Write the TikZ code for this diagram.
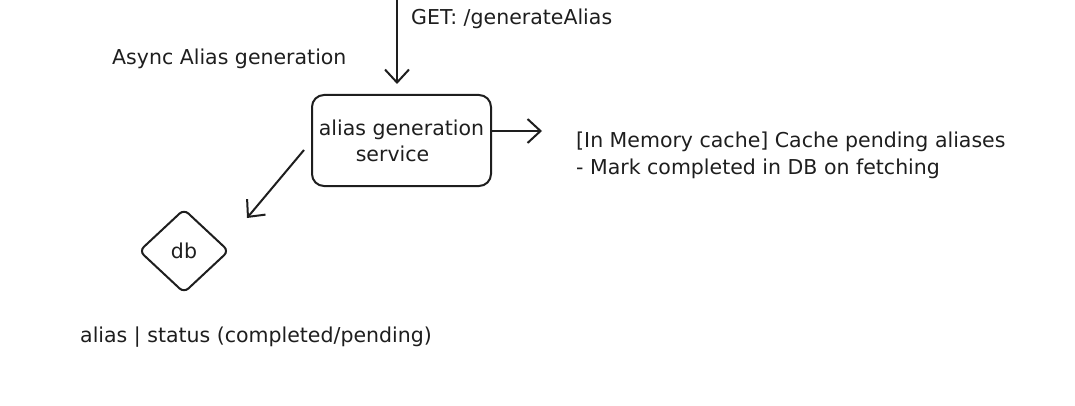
\documentclass[tikz,border=0pt]{standalone}
\usepackage{fontspec}
\setmainfont{DejaVu Sans}
\usetikzlibrary{arrows.meta,shapes.geometric}
\definecolor{ink}{HTML}{1E1E1E}
\tikzset{
  lbl/.style={text=ink, inner sep=0pt, font=\fontsize{20.5}{27}\selectfont},
  conn/.style={draw=ink, line width=2pt, -{Straight Barb[length=13pt,width=24pt,line width=2pt]}},
  svc/.style={draw=ink, line width=2pt, rounded corners=12pt, minimum width=179pt, minimum height=91pt, align=center, text=ink, inner sep=0pt, font=\fontsize{20.5}{27}\selectfont},
  dbshape/.style={draw=ink, line width=2pt, diamond, rounded corners=6pt, minimum width=90pt, minimum height=84pt, inner sep=0pt, text=ink, font=\fontsize{20.5}{22}\selectfont}
}
\begin{document}
\begin{tikzpicture}[x=1pt,y=-1pt]
\useasboundingbox (0,0) rectangle (1075,406);
\node[svc] (svc) at (401.5,140.5) {alias generation\\[-1pt]\hspace*{-18pt}service};
\node[dbshape] (db) at (184,251) {db};
\coordinate (top) at (397,0);
\coordinate (cacheend) at (542,131);
\coordinate (dbend) at (247,218);
\node[lbl, anchor=west] (get) at (411,19) {GET: /generateAlias};
\node[lbl, anchor=west] (async) at (112,59) {Async Alias generation};
\node[lbl, anchor=west, align=left] (cache) at (576,155) {[In Memory cache] Cache pending aliases\\- Mark completed in DB on fetching};
\node[lbl, anchor=west] (dbtxt) at (80,337) {alias | status (completed/pending)};
\draw[conn, shorten >=10pt] (top) -- (svc.north -| top);
\draw[conn] (svc.east |- cacheend) -- (cacheend);
\draw[conn] (304,150) -- (dbend);
\end{tikzpicture}
\end{document}
